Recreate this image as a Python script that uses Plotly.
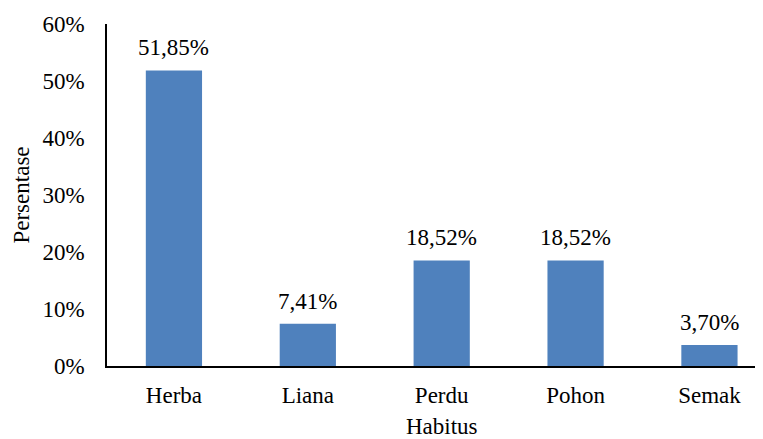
import plotly.graph_objects as go

categories = ["Herba", "Liana", "Perdu", "Pohon", "Semak"]
values = [0.5185, 0.0741, 0.1852, 0.1852, 0.0370]
tick_vals = [0, 0.1, 0.2, 0.3, 0.4, 0.5, 0.6]

FONT = "Liberation Serif, Times New Roman, serif"
FS = 23

fig = go.Figure(go.Bar(
    x=categories, y=values,
    marker=dict(color="#4F81BD", line=dict(width=0)),
    width=0.42,
    cliponaxis=False,
))

for c, v in zip(categories, values):
    fig.add_annotation(
        x=c, y=v, text=f"{v*100:.2f}%".replace(".", ","),
        showarrow=False, yanchor="bottom", yshift=8,
        font=dict(family=FONT, size=FS, color="black"),
    )

# x-axis title placed as annotation (margin constraint)
fig.add_annotation(
    xref="paper", yref="paper", x=0.511, y=0, yshift=-60,
    text="Habitus", showarrow=False, xanchor="center", yanchor="middle",
    font=dict(family=FONT, size=FS, color="black"),
)

fig.update_layout(
    width=755, height=431,
    margin=dict(l=99, r=0, t=16, b=73),
    paper_bgcolor="white", plot_bgcolor="white",
    separators=",.",
    showlegend=False,
    font=dict(family=FONT, color="black"),
    xaxis=dict(
        range=[-0.5, 4.4],
        showline=True, linecolor="black", linewidth=1.5,
        ticks="", tickfont=dict(size=FS, family=FONT), ticklabelstandoff=8,
        automargin=False,
    ),
    yaxis=dict(
        range=[0, 0.6], tickvals=tick_vals, tickformat=".0%",
        showline=True, linecolor="black", linewidth=1.5,
        showgrid=False, zeroline=False, ticks="",
        tickfont=dict(size=FS, family=FONT), ticklabelstandoff=16,
        title=dict(text="Persentase", font=dict(size=FS, family=FONT), standoff=6),
        automargin=False,
    ),
)

fig.write_html("out.html")
